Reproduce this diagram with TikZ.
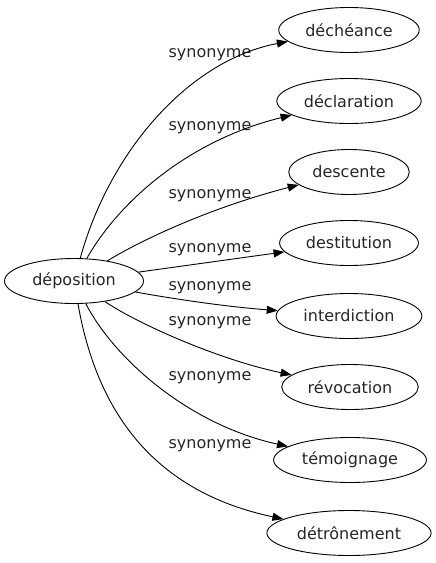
\documentclass[tikz,border=0pt]{standalone}
\usepackage{fontspec}
\setmainfont{DejaVu Sans}
\usetikzlibrary{arrows.meta,shapes.geometric}
\begin{document}
\begin{tikzpicture}[x=1pt,y=-1pt,
  mot/.style={draw,ellipse,line width=0.9pt,inner xsep=6pt,inner ysep=2pt,
    minimum height=45pt,text=black!85,font=\fontsize{16}{19}\selectfont},
  syn/.style={line width=0.9pt,-{Triangle[length=11pt,width=8pt]}},
  lab/.style={text=black!85,font=\fontsize{16}{19}\selectfont,inner sep=0pt}]
\useasboundingbox (0,0) rectangle (436,563);
\node[mot,minimum width=139pt] (dep) at (74,281) {déposition};
\node[mot] (t1) at (349,30)  {déchéance};
\node[mot] (t2) at (349,101) {déclaration};
\node[mot] (t3) at (349,172) {descente};
\node[mot] (t4) at (349,243) {destitution};
\node[mot] (t5) at (349,316) {interdiction};
\node[mot] (t6) at (350,387) {révocation};
\node[mot] (t7) at (350,460) {témoignage};
\node[mot] (t8) at (349,533) {détrônement};
\node[lab] (l1) at (210,55)  {synonyme};
\node[lab] (l2) at (210,128) {synonyme};
\node[lab] (l3) at (210,196) {synonyme};
\node[lab] (l4) at (210,250) {synonyme};
\node[lab] (l5) at (210,288) {synonyme};
\node[lab] (l6) at (210,323) {synonyme};
\node[lab] (l7) at (210,378) {synonyme};
\node[lab] (l8) at (210,446) {synonyme};
\draw[syn] (dep) .. controls (110,150) and (190,60)  .. (t1);
\draw[syn] (dep) .. controls (120,200) and (190,140) .. (t2);
\draw[syn] (dep) .. controls (150,235) and (220,205) .. (t3);
\draw[syn] (dep) .. controls (190,265) and (240,258) .. (t4);
\draw[syn] (dep) .. controls (180,300) and (230,307) .. (t5);
\draw[syn] (dep) .. controls (140,325) and (220,360) .. (t6);
\draw[syn] (dep) .. controls (115,360) and (190,425) .. (t7);
\draw[syn] (dep) .. controls (100,430) and (170,495) .. (t8);
\end{tikzpicture}
\end{document}
